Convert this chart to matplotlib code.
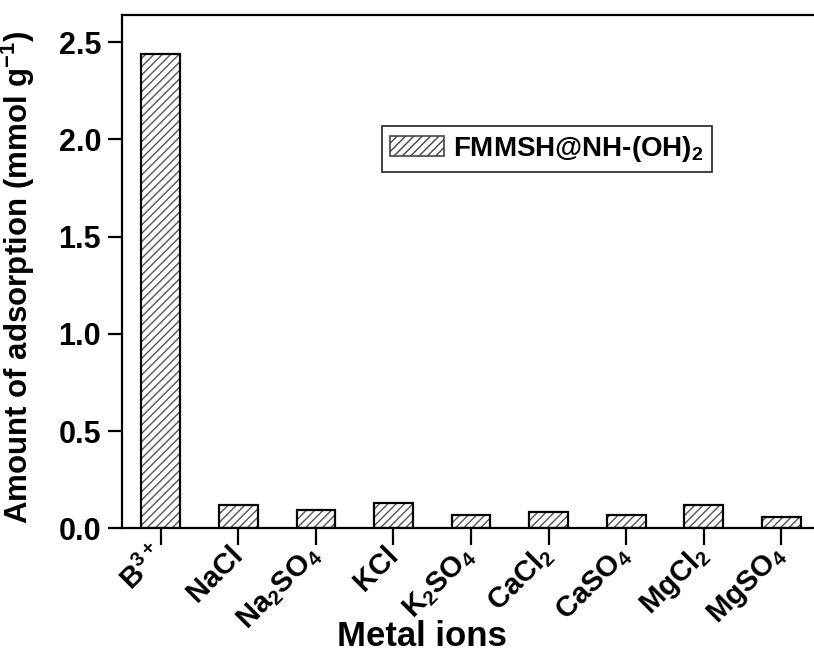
import matplotlib
matplotlib.use("Agg")
import matplotlib.pyplot as plt
import numpy as np
from matplotlib.patches import Patch

categories = [r"B$^{3+}$", "NaCl", r"Na$_2$SO$_4$", "KCl", r"K$_2$SO$_4$",
              r"CaCl$_2$", r"CaSO$_4$", r"MgCl$_2$", r"MgSO$_4$"]
values = [2.44, 0.12, 0.094, 0.13, 0.068, 0.085, 0.068, 0.12, 0.058]
series_name = r"FMMSH@NH-(OH)$_2$"
yticks = [0.0, 0.5, 1.0, 1.5, 2.0, 2.5]

plt.rcParams['font.family'] = ['Liberation Sans', 'DejaVu Sans']
plt.rcParams['font.weight'] = 'bold'
plt.rcParams['mathtext.fontset'] = 'custom'
plt.rcParams['mathtext.rm'] = 'Liberation Sans:bold'
plt.rcParams['mathtext.it'] = 'Liberation Sans:bold'
plt.rcParams['mathtext.bf'] = 'Liberation Sans:bold'
plt.rcParams['mathtext.default'] = 'rm'
plt.rcParams['hatch.linewidth'] = 1.0

W, H = 814, 654
fig = plt.figure(figsize=(W/100, H/100), dpi=100)
left, right, top, bottom = 122, 820, 15.3, 528.3
ax = fig.add_axes([left/W, (H-bottom)/H, (right-left)/W, (bottom-top)/H])

x = np.arange(len(categories))
ax.bar(x, values, width=0.5, color='white', edgecolor='#555555', hatch='////', linewidth=0, zorder=2)
ax.bar(x, values, width=0.5, fill=False, edgecolor='black', linewidth=1.6, zorder=3)

h = Patch(facecolor='white', edgecolor='#444444', hatch='////', linewidth=1.2)
leg = ax.legend([h], [series_name], loc='upper left', bbox_to_anchor=(0.372, 0.785),
                borderaxespad=0, fontsize=20, frameon=True, fancybox=False,
                edgecolor='black', handlelength=1.95, handleheight=0.7,
                borderpad=0.3, handletextpad=0.32)
leg.get_frame().set_linewidth(1.3)

ax.set_xlim(-0.5, len(categories) - 0.5)
ax.set_ylim(0, 2.638)
ax.set_yticks(yticks)
ax.set_yticklabels([f"{v:.1f}" for v in yticks], fontsize=22, fontweight='bold')
ax.set_xticks(x)
ax.set_xticklabels(categories, fontsize=21, fontweight='bold', rotation=45,
                   ha='right', va='center', rotation_mode='anchor')
ax.tick_params(axis='y', direction='out', length=10, width=1.6, pad=5)
ax.tick_params(axis='x', direction='out', length=12, width=1.6, pad=4)
for s in ax.spines.values():
    s.set_linewidth(1.6)

ax.set_ylabel(r"Amount of adsorption (mmol g$^{-1}$)", fontsize=22.5, fontweight='bold')
ax.yaxis.set_label_coords(-0.149, 0.49)
ax.yaxis.label.set_va('center')
ax.set_xlabel("Metal ions", fontsize=25, fontweight='bold')
ax.xaxis.label.set_va('baseline')
ax.xaxis.set_label_coords(0.43, -0.229)

fig.savefig("out.png", dpi=100)
